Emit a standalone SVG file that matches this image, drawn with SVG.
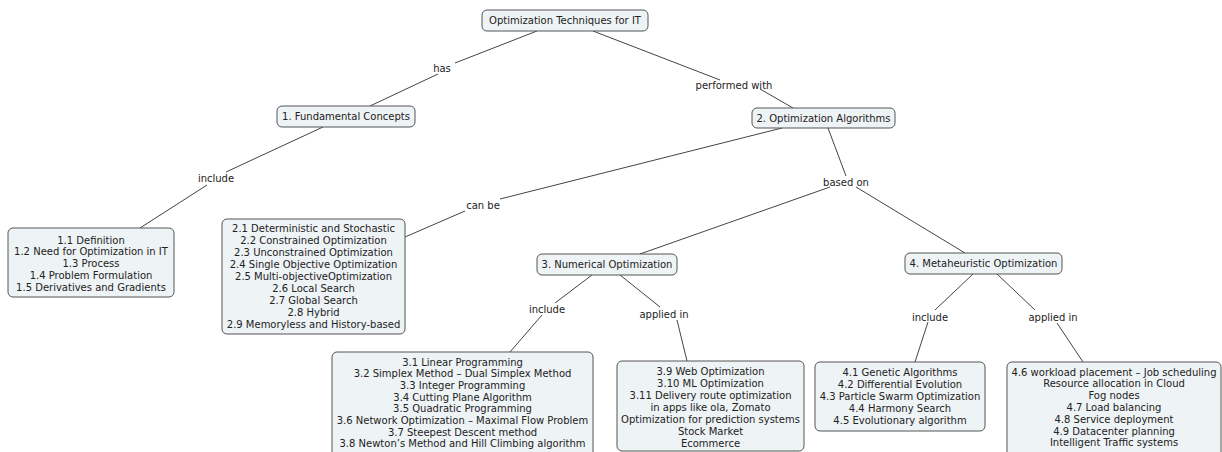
<svg xmlns="http://www.w3.org/2000/svg" width="1222" height="452" viewBox="0 0 1222 452">
<style>
.box{fill:#eef3f5;stroke:#555;stroke-width:1}
.t{font-family:"DejaVu Sans",Verdana,sans-serif;font-size:10px;fill:#222;text-anchor:middle}
.lbl{font-family:"DejaVu Sans",Verdana,sans-serif;font-size:10px;fill:#222;text-anchor:middle}
.c line{stroke:#444;stroke-width:1}
</style>
<rect width="1222" height="452" fill="#fff"/>
<g id="connectors" class="c">
<line x1="537" y1="31" x2="455" y2="63"/>
<line x1="438" y1="74" x2="370" y2="106"/>
<line x1="593" y1="31" x2="720" y2="80"/>
<line x1="760" y1="89" x2="793" y2="108"/>
<line x1="323" y1="127" x2="226" y2="172"/>
<line x1="207" y1="185" x2="140" y2="228"/>
<line x1="782" y1="128" x2="500" y2="199"/>
<line x1="465" y1="211" x2="405" y2="237"/>
<line x1="828" y1="128" x2="846" y2="176"/>
<line x1="830" y1="187" x2="640" y2="254"/>
<line x1="856" y1="187" x2="965" y2="253"/>
<line x1="592" y1="275" x2="555" y2="303"/>
<line x1="542" y1="315" x2="510" y2="352"/>
<line x1="620" y1="275" x2="660" y2="307"/>
<line x1="677" y1="320" x2="687" y2="361"/>
<line x1="973" y1="274" x2="935" y2="310"/>
<line x1="928" y1="322" x2="915" y2="362"/>
<line x1="997" y1="274" x2="1035" y2="310"/>
<line x1="1057" y1="323" x2="1083" y2="362"/>
</g>
<g id="labels">
<text class="lbl" x="442" y="72">has</text>
<text class="lbl" x="734" y="89">performed with</text>
<text class="lbl" x="216" y="182">include</text>
<text class="lbl" x="483" y="209">can be</text>
<text class="lbl" x="846" y="186">based on</text>
<text class="lbl" x="547" y="313">include</text>
<text class="lbl" x="664" y="318">applied in</text>
<text class="lbl" x="930" y="321">include</text>
<text class="lbl" x="1053" y="321">applied in</text>
</g>
<g id="root">
<rect class="box" x="482" y="10" width="166" height="21" rx="5"/>
<text class="t" x="565" y="24">Optimization Techniques for IT</text>
</g>
<g id="n1">
<rect class="box" x="277" y="106" width="138" height="21" rx="5"/>
<text class="t" x="346" y="120">1. Fundamental Concepts</text>
</g>
<g id="n2">
<rect class="box" x="752" y="108" width="143" height="20" rx="5"/>
<text class="t" x="823.5" y="121.5">2. Optimization Algorithms</text>
</g>
<g id="n3">
<rect class="box" x="537" y="254" width="140" height="21" rx="5"/>
<text class="t" x="607" y="268">3. Numerical Optimization</text>
</g>
<g id="n4">
<rect class="box" x="905" y="253" width="157" height="21" rx="5"/>
<text class="t" x="983.5" y="267">4. Metaheuristic Optimization</text>
</g>
<g id="b1">
<rect class="box" x="8" y="228" width="166" height="69" rx="5"/>
<text class="t" x="91" y="243.5"><tspan x="91">1.1 Definition</tspan><tspan x="91" dy="11.8">1.2 Need for Optimization in IT</tspan><tspan x="91" dy="11.8">1.3 Process</tspan><tspan x="91" dy="11.8">1.4 Problem Formulation</tspan><tspan x="91" dy="11.8">1.5 Derivatives and Gradients</tspan></text>
</g>
<g id="b2">
<rect class="box" x="222" y="219" width="183" height="115" rx="5"/>
<text class="t" x="313.5" y="231.5"><tspan x="313.5">2.1 Deterministic and Stochastic</tspan><tspan x="313.5" dy="12">2.2 Constrained Optimization</tspan><tspan x="313.5" dy="12">2.3 Unconstrained Optimization</tspan><tspan x="313.5" dy="12">2.4 Single Objective Optimization</tspan><tspan x="313.5" dy="12">2.5 Multi-objectiveOptimization</tspan><tspan x="313.5" dy="12">2.6 Local Search</tspan><tspan x="313.5" dy="12">2.7 Global Search</tspan><tspan x="313.5" dy="12">2.8 Hybrid</tspan><tspan x="313.5" dy="12">2.9 Memoryless and History-based</tspan></text>
</g>
<g id="b3">
<rect class="box" x="332" y="352" width="261" height="106" rx="5"/>
<text class="t" x="462.5" y="365.5"><tspan x="462.5">3.1 Linear Programming</tspan><tspan x="462.5" dy="11.7">3.2 Simplex Method – Dual Simplex Method</tspan><tspan x="462.5" dy="11.7">3.3 Integer Programming</tspan><tspan x="462.5" dy="11.7">3.4 Cutting Plane Algorithm</tspan><tspan x="462.5" dy="11.7">3.5 Quadratic Programming</tspan><tspan x="462.5" dy="11.7">3.6 Network Optimization – Maximal Flow Problem</tspan><tspan x="462.5" dy="11.7">3.7 Steepest Descent method</tspan><tspan x="462.5" dy="11.7">3.8 Newton’s Method and Hill Climbing algorithm</tspan></text>
</g>
<g id="b3a">
<rect class="box" x="617" y="361" width="187" height="90" rx="5"/>
<text class="t" x="710.5" y="374.5"><tspan x="710.5">3.9 Web Optimization</tspan><tspan x="710.5" dy="12">3.10 ML Optimization</tspan><tspan x="710.5" dy="12">3.11 Delivery route optimization</tspan><tspan x="710.5" dy="12">in apps like ola, Zomato</tspan><tspan x="710.5" dy="12">Optimization for prediction systems</tspan><tspan x="710.5" dy="12">Stock Market</tspan><tspan x="710.5" dy="12">Ecommerce</tspan></text>
</g>
<g id="b4">
<rect class="box" x="815" y="362" width="170" height="69" rx="5"/>
<text class="t" x="900" y="375.5"><tspan x="900">4.1 Genetic Algorithms</tspan><tspan x="900" dy="12">4.2 Differential Evolution</tspan><tspan x="900" dy="12">4.3 Particle Swarm Optimization</tspan><tspan x="900" dy="12">4.4 Harmony Search</tspan><tspan x="900" dy="12">4.5 Evolutionary algorithm</tspan></text>
</g>
<g id="b4a">
<rect class="box" x="1007" y="362" width="214" height="96" rx="5"/>
<text class="t" x="1114" y="375.5"><tspan x="1114">4.6 workload placement – Job scheduling</tspan><tspan x="1114" dy="11.8">Resource allocation in Cloud</tspan><tspan x="1114" dy="11.8">Fog nodes</tspan><tspan x="1114" dy="11.8">4.7 Load balancing</tspan><tspan x="1114" dy="11.8">4.8 Service deployment</tspan><tspan x="1114" dy="11.8">4.9 Datacenter planning</tspan><tspan x="1114" dy="11.8">Intelligent Traffic systems</tspan></text>
</g>
</svg>
